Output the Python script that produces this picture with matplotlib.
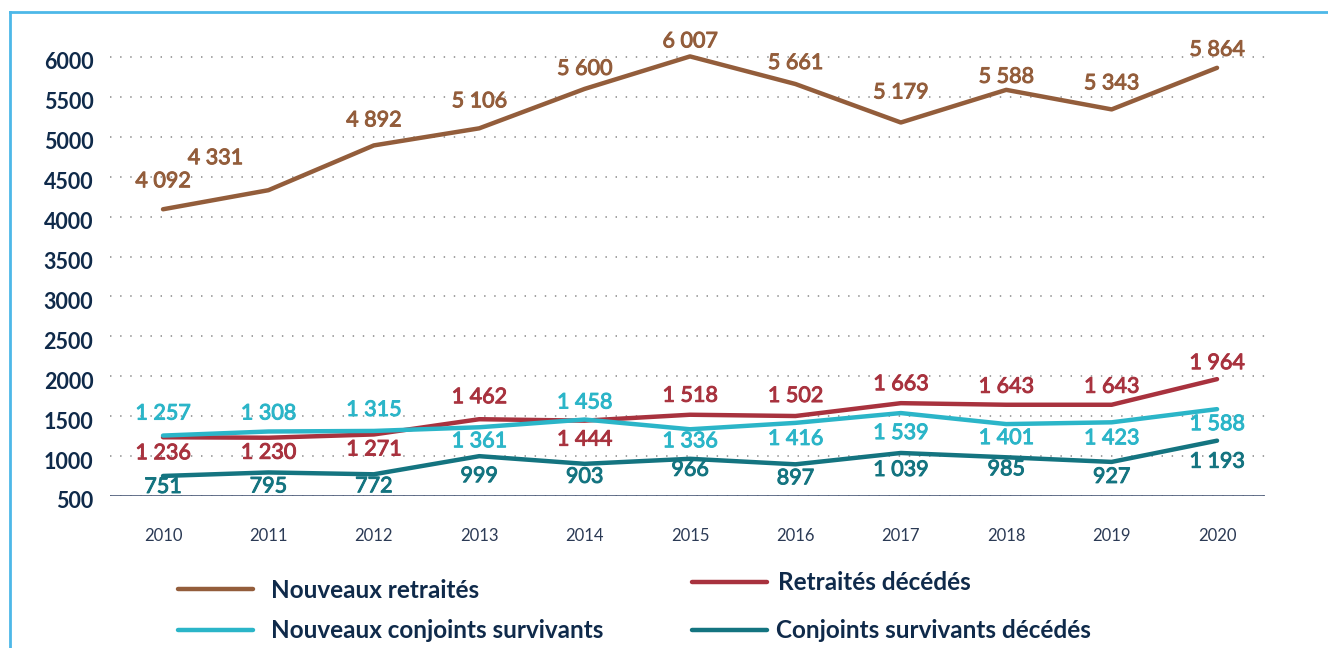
import matplotlib.pyplot as plt
import matplotlib.transforms as mtransforms
import matplotlib.patheffects as pe
from matplotlib.lines import Line2D

years = [2010, 2011, 2012, 2013, 2014, 2015, 2016, 2017, 2018, 2019, 2020]
nouveaux_retraites = [4092, 4331, 4892, 5106, 5600, 6007, 5661, 5179, 5588, 5343, 5864]
retraites_decedes = [1236, 1230, 1271, 1462, 1444, 1518, 1502, 1663, 1643, 1643, 1964]
nouveaux_conjoints = [1257, 1308, 1315, 1361, 1458, 1336, 1416, 1539, 1401, 1423, 1588]
conjoints_decedes = [751, 795, 772, 999, 903, 966, 897, 1039, 985, 927, 1193]
yticks = [500, 1000, 1500, 2000, 2500, 3000, 3500, 4000, 4500, 5000, 5500, 6000]

names = ["Nouveaux retraités", "Retraités décédés",
         "Nouveaux conjoints survivants", "Conjoints survivants décédés"]
colors = ["#935d3b", "#a8323e", "#2bb5c8", "#147480"]
navy = "#0f2a4a"

# label offsets in pixels (dx, dy), dy positive = down
offs_brown = [(0, -28), (-53, -32), (0, -25), (0, -27), (0, -20), (0, -15),
              (0, -21), (0, -30), (0, -13), (0, -26), (0, -18)]
offs_red = [(0, 16), (0, 15), (0, 15), (0, -22), (0, 19), (0, -19),
            (0, -20), (0, -19), (0, -18), (0, -18), (0, -16)]
offs_cyan = [(0, -22), (0, -18), (0, -21), (0, 14), (0, -17), (0, 12),
             (0, 16), (0, 20), (0, 14), (0, 16), (0, 15)]
offs_teal = [(0, 11), (0, 14), (0, 12), (0, 20), (0, 13), (0, 11),
             (0, 14), (0, 17), (0, 12), (0, 15), (0, 21)]

plt.rcParams['font.family'] = ['Lato', 'DejaVu Sans']

W, H = 1328, 648
fig = plt.figure(figsize=(W / 100, H / 100), dpi=100)
ax = fig.add_axes([110 / W, 1 - 496 / H, (1265 - 110) / W, (496 - 41) / H])
ax.set_xlim(2009.497, 2020.455)
ax.set_ylim(500, 6200)

for s in ax.spines.values():
    s.set_visible(False)

for y in yticks:
    ax.axhline(y, color="#9a9a9a", lw=1.3, linestyle=(0, (0.8, 4.8)), zorder=1)
ax.axhline(500, color="#4a5a78", lw=1.2, zorder=1.5)

series = [nouveaux_retraites, retraites_decedes, nouveaux_conjoints, conjoints_decedes]
offsets = [offs_brown, offs_red, offs_cyan, offs_teal]
for vals, col, offs in zip(series, colors, offsets):
    ax.plot(years, vals, color=col, lw=3.2, solid_capstyle="round", zorder=3)
    for x, v, (dx, dy) in zip(years, vals, offs):
        txt = "{:,}".format(v).replace(",", " ")
        ax.annotate(txt, (x, v), xytext=(dx * 0.72, -dy * 0.72), textcoords="offset points",
                    ha="center", va="center", fontsize=15.5, color=col,
                    annotation_clip=False, zorder=4,
                    path_effects=[pe.withStroke(linewidth=0.7, foreground=col)])

ax.set_yticks(yticks)
ax.set_yticklabels([str(t) for t in yticks], fontsize=15.5, fontweight="bold", color=navy)
ax.set_xticks(years)
ax.set_xticklabels([str(y) for y in years], fontsize=12, color="#2b3a55")
ax.tick_params(axis="y", length=0, pad=12)
ax.tick_params(axis="x", length=0, pad=23)
shift = mtransforms.ScaledTranslation(0, -4 / 100, fig.dpi_scale_trans)
for lab in ax.get_yticklabels():
    lab.set_transform(lab.get_transform() + shift)

# legend drawn by hand in figure pixels
leg = [(178, 589, 271), (692, 582, 778), (178, 630, 271), (692, 630, 776)]
for (x0, y0, tx), name, col in zip(leg, names, colors):
    fig.add_artist(Line2D([x0 / W, (x0 + 75) / W], [1 - y0 / H, 1 - y0 / H],
                          color=col, lw=3.2, solid_capstyle="round"))
    fig.text(tx / W, 1 - (y0 + 1) / H, name, fontsize=17.5, fontweight="bold",
             color=navy, va="center", ha="left")

# frame
fig.add_artist(Line2D([10 / W, 1], [1 - 12 / H, 1 - 12 / H], color="#4db8e8", lw=2))
fig.add_artist(Line2D([10 / W, 10 / W], [0, 1 - 12 / H], color="#4db8e8", lw=2))

fig.savefig("out.png", dpi=100)
